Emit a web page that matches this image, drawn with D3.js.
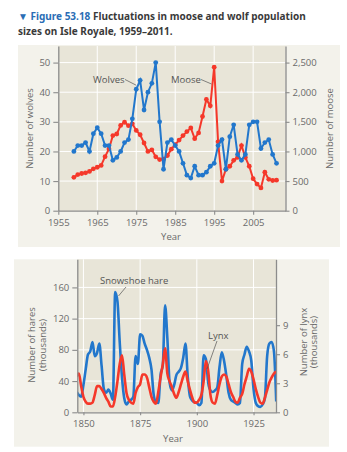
<!DOCTYPE html>
<html>
<head>
<meta charset="utf-8">
<script src="https://cdn.jsdelivr.net/npm/d3@7"></script>
<style>
  body { margin: 0; background: #fff; }
  svg text { font-family: "Open Sans", "Noto Sans", sans-serif; }
</style>
</head>
<body>
<svg width="347" height="452"></svg>
<script>
// Isle Royale counts, 1959-2011
const years = d3.range(1959, 2012);
const wolves = [20, 22, 22, 23, 20, 26, 28, 26, 22, 22, 17, 18, 20, 23, 24, 31, 41, 44, 34, 40,
  43, 50, 30, 14, 23, 24, 22, 20, 16, 12, 11, 15, 12, 12, 13, 15, 16, 22, 24, 14,
  25, 29, 19, 17, 19, 29, 30, 30, 21, 23, 24, 19, 16];
const moose = [563, 610, 628, 639, 663, 707, 733, 765, 912, 1042, 1268, 1295, 1439, 1493, 1435, 1467, 1355, 1282, 1143, 1001,
  1028, 910, 863, 872, 932, 1038, 1115, 1192, 1268, 1335, 1397, 1216, 1313, 1590, 1879, 1770, 2422, 1163, 500, 699,
  750, 850, 900, 1100, 900, 750, 540, 450, 385, 650, 530, 510, 515];

// hare / lynx cycles (thousands), 1847-1935
const cycleYears = d3.range(1847, 1936);
const hares = [26, 22, 20, 35, 55, 74, 78, 90, 72, 76, 88, 60, 30, 25, 29, 24, 16, 154, 142, 90,
  45, 18, 10, 14, 16, 20, 72, 62, 100, 98, 88, 80, 70, 55, 22, 13, 12, 48, 60, 137,
  95, 38, 28, 35, 48, 52, 57, 70, 88, 45, 20, 15, 13, 12, 9, 12, 73, 68, 38, 28,
  26, 28, 32, 58, 77, 66, 47, 25, 16, 14, 12, 10, 12, 62, 74, 84, 78, 66, 30, 12,
  8, 7, 10, 18, 72, 88, 90, 78, 14];
const lynx = [3.7, 4.0, 2.7, 1.6, 1.1, 0.9, 0.9, 1.0, 1.8, 2.7, 2.7, 2.4, 2.0, 1.5, 1.1, 0.6, 0.6, 1.6, 3.2, 5.0,
  5.9, 3.9, 2.0, 1.3, 1.0, 0.9, 2.0, 2.6, 2.9, 3.9, 3.9, 3.6, 2.6, 1.6, 1.1, 0.9, 2.1, 3.6, 5.0, 6.6,
  4.0, 3.2, 2.6, 1.9, 1.5, 2.1, 2.9, 3.7, 4.2, 3.2, 2.3, 1.5, 1.0, 1.0, 1.3, 1.8, 3.2, 5.3, 4.3, 1.8,
  1.0, 0.9, 1.8, 2.9, 3.7, 3.9, 3.7, 2.9, 2.1, 1.6, 1.1, 1.0, 1.5, 1.9, 2.9, 3.7, 4.5, 4.2, 3.4, 2.4,
  1.6, 1.0, 0.9, 1.5, 2.3, 3.1, 3.6, 4.0, 4.2];

const topYearTicks = [1955, 1965, 1975, 1985, 1995, 2005];
const wolfTicks = [0, 10, 20, 30, 40, 50];
const mooseTicks = [0, 500, 1000, 1500, 2000, 2500];
const cycleYearTicks = [1850, 1875, 1900, 1925];
const hareTicks = [0, 40, 80, 120, 160];
const lynxTicks = [0, 3, 6, 9];

const BLUE = "#2277cc", RED = "#f5382a";
const AXIS = "#8c8c8c", LABEL = "#6a6a6a";
const OUTER = "#f3f2eb", PLOT = "#e8e5d8";

const svg = d3.select("svg");

// title
const title = svg.append("text")
  .attr("x", 18).attr("y", 20)
  .style("font-family", "'Noto Sans', sans-serif")
  .style("font-size", "10px").style("font-weight", "bold");
title.append("tspan").attr("fill", "#2a6db5").text("\u25BC Figure 53.18 ");
title.append("tspan").attr("fill", "#3a3a3a").text(" Fluctuations in moose and wolf population");
svg.append("text")
  .attr("x", 18).attr("y", 35)
  .style("font-family", "'Noto Sans', sans-serif")
  .style("font-size", "10px").style("font-weight", "bold")
  .attr("fill", "#3a3a3a")
  .text("sizes on Isle Royale, 1959\u20132011.");

function styleAxis(g) {
  g.select(".domain").attr("stroke", AXIS).attr("stroke-width", 1.3);
  g.selectAll(".tick line").attr("stroke", AXIS).attr("stroke-width", 1.1);
  g.selectAll(".tick text").attr("fill", LABEL).style("font-size", "9.5px")
    .style("font-family", "'Open Sans', sans-serif");
}

// rotated titles read bottom-to-top; extra lines stack to the right
function axisTitle(x, y, rot, lines) {
  const t = svg.append("text")
    .attr("transform", `translate(${x},${y}) rotate(${rot})`)
    .attr("text-anchor", "middle")
    .attr("fill", LABEL)
    .style("font-size", "9.5px");
  lines.forEach((s, i) => t.append("tspan").attr("x", 0).attr("dy", i ? "1.15em" : 0).text(s));
}

// ===== Top chart: wolves and moose =====
svg.append("rect").attr("x", 18).attr("y", 45).attr("width", 322).attr("height", 202).attr("fill", OUTER);

const x1 = d3.scaleLinear().domain([1955, 2013.3]).range([58.3, 285.5]);
const yW = d3.scaleLinear().domain([0, 55.6]).range([210.7, 46]);
const yM = d3.scaleLinear().domain([0, 2780]).range([210.7, 46]);

svg.append("rect").attr("x", x1.range()[0]).attr("y", yW.range()[1])
  .attr("width", x1.range()[1] - x1.range()[0]).attr("height", yW.range()[0] - yW.range()[1])
  .attr("fill", PLOT);

const grid1 = svg.append("g").attr("stroke", "#fff").attr("stroke-width", 1);
grid1.selectAll(".v").data(topYearTicks.slice(1)).join("line")
  .attr("x1", d => x1(d)).attr("x2", d => x1(d)).attr("y1", yW.range()[1]).attr("y2", yW.range()[0]);
grid1.selectAll(".h").data(wolfTicks.slice(1)).join("line")
  .attr("x1", x1.range()[0]).attr("x2", x1.range()[1]).attr("y1", d => yW(d)).attr("y2", d => yW(d));

const lineW = d3.line().x((d, i) => x1(years[i])).y(d => yW(d));
const lineM = d3.line().x((d, i) => x1(years[i])).y(d => yM(d));

svg.append("path").datum(moose).attr("d", lineM).attr("fill", "none").attr("stroke", RED).attr("stroke-width", 2);
svg.append("g").selectAll("circle").data(moose).join("circle")
  .attr("cx", (d, i) => x1(years[i])).attr("cy", d => yM(d)).attr("r", 2.4).attr("fill", RED);

svg.append("path").datum(wolves).attr("d", lineW).attr("fill", "none").attr("stroke", BLUE).attr("stroke-width", 2);
svg.append("g").selectAll("circle").data(wolves).join("circle")
  .attr("cx", (d, i) => x1(years[i])).attr("cy", d => yW(d)).attr("r", 2.4).attr("fill", BLUE);

svg.append("g").attr("transform", `translate(0,${yW(0)})`)
  .call(d3.axisBottom(x1).tickValues(topYearTicks).tickFormat(d3.format("d")).tickSize(4).tickSizeOuter(0).tickPadding(4.5))
  .call(styleAxis);
svg.append("g").attr("transform", `translate(${x1.range()[0]},0)`)
  .call(d3.axisLeft(yW).tickValues(wolfTicks).tickSize(5).tickSizeOuter(0).tickPadding(3))
  .call(styleAxis);
svg.append("g").attr("transform", `translate(${x1.range()[1]},0)`)
  .call(d3.axisRight(yM).tickValues(mooseTicks).tickFormat(d3.format(",")).tickSize(4).tickSizeOuter(0).tickPadding(3))
  .call(styleAxis);

axisTitle(171, 240, 0, ["Year"]);
axisTitle(33.3, 128.5, -90, ["Number of wolves"]);
axisTitle(332.6, 128.5, -90, ["Number of moose"]);

// series labels with leader lines
svg.append("text").attr("x", 93).attr("y", 82.5).attr("fill", "#555").style("font-size", "9.5px").text("Wolves");
svg.append("line").attr("x1", 125).attr("y1", 79.5).attr("x2", x1(1975)).attr("y2", yW(41) - 4)
  .attr("stroke", "#555").attr("stroke-width", 0.7);
svg.append("text").attr("x", 171).attr("y", 82.5).attr("fill", "#555").style("font-size", "9.5px").text("Moose");
svg.append("line").attr("x1", 201).attr("y1", 79.5).attr("x2", 211.5).attr("y2", 84)
  .attr("stroke", "#555").attr("stroke-width", 0.7);

// ===== Bottom chart: snowshoe hare and lynx =====
svg.append("rect").attr("x", 14).attr("y", 259.3).attr("width", 315).attr("height", 187.4).attr("fill", OUTER);

const x2 = d3.scaleLinear().domain([1847.3, 1934.9]).range([77.3, 276]);
const yH = d3.scaleLinear().domain([0, 196]).range([412.3, 259.3]);
const yL = d3.scaleLinear().domain([0, 196 / 12.4]).range([412.3, 259.3]);

svg.append("rect").attr("x", x2.range()[0]).attr("y", yH.range()[1])
  .attr("width", x2.range()[1] - x2.range()[0]).attr("height", yH.range()[0] - yH.range()[1])
  .attr("fill", PLOT);

const grid2 = svg.append("g").attr("stroke", "#fff").attr("stroke-width", 1);
grid2.selectAll(".v").data(cycleYearTicks).join("line")
  .attr("x1", d => x2(d)).attr("x2", d => x2(d)).attr("y1", yH.range()[1]).attr("y2", yH.range()[0]);
grid2.selectAll(".h").data(hareTicks.slice(1)).join("line")
  .attr("x1", x2.range()[0]).attr("x2", x2.range()[1]).attr("y1", d => yH(d)).attr("y2", d => yH(d));

svg.append("clipPath").attr("id", "clip2").append("rect")
  .attr("x", x2.range()[0]).attr("y", yH.range()[1] - 5)
  .attr("width", x2.range()[1] - x2.range()[0]).attr("height", yH.range()[0] - yH.range()[1] + 5);

const lineH = d3.line().curve(d3.curveMonotoneX).x((d, i) => x2(cycleYears[i])).y(d => yH(d));
const lineL = d3.line().curve(d3.curveMonotoneX).x((d, i) => x2(cycleYears[i])).y(d => yL(d));

svg.append("path").datum(hares).attr("d", lineH).attr("clip-path", "url(#clip2)")
  .attr("fill", "none").attr("stroke", BLUE).attr("stroke-width", 2.6).attr("stroke-linejoin", "round");
svg.append("path").datum(lynx).attr("d", lineL).attr("clip-path", "url(#clip2)")
  .attr("fill", "none").attr("stroke", RED).attr("stroke-width", 2.6).attr("stroke-linejoin", "round");

svg.append("g").attr("transform", `translate(0,${yH(0)})`)
  .call(d3.axisBottom(x2).tickValues(cycleYearTicks).tickFormat(d3.format("d")).tickSize(3).tickSizeOuter(0).tickPadding(4.5))
  .call(styleAxis);
svg.append("g").attr("transform", `translate(${x2.range()[0]},0)`)
  .call(d3.axisLeft(yH).tickValues(hareTicks).tickSize(5).tickSizeOuter(0).tickPadding(3))
  .call(styleAxis);
svg.append("g").attr("transform", `translate(${x2.range()[1]},0)`)
  .call(d3.axisRight(yL).tickValues(lynxTicks).tickSize(4).tickSizeOuter(0).tickPadding(3))
  .call(styleAxis);

axisTitle(173, 442, 0, ["Year"]);
axisTitle(35, 345, -90, ["Number of hares", "(thousands)"]);
axisTitle(306.5, 342, -90, ["Number of lynx", "(thousands)"]);

svg.append("text").attr("x", 100).attr("y", 284).attr("fill", "#555").style("font-size", "9.5px").text("Snowshoe hare");
svg.append("line").attr("x1", 126).attr("y1", 287).attr("x2", 118.5).attr("y2", 296)
  .attr("stroke", "#555").attr("stroke-width", 0.7);
svg.append("text").attr("x", 208).attr("y", 338.5).attr("fill", "#555").style("font-size", "9.5px").text("Lynx");
svg.append("line").attr("x1", 217).attr("y1", 341).attr("x2", 207).attr("y2", 369)
  .attr("stroke", "#555").attr("stroke-width", 0.7);
</script>
</body>
</html>
